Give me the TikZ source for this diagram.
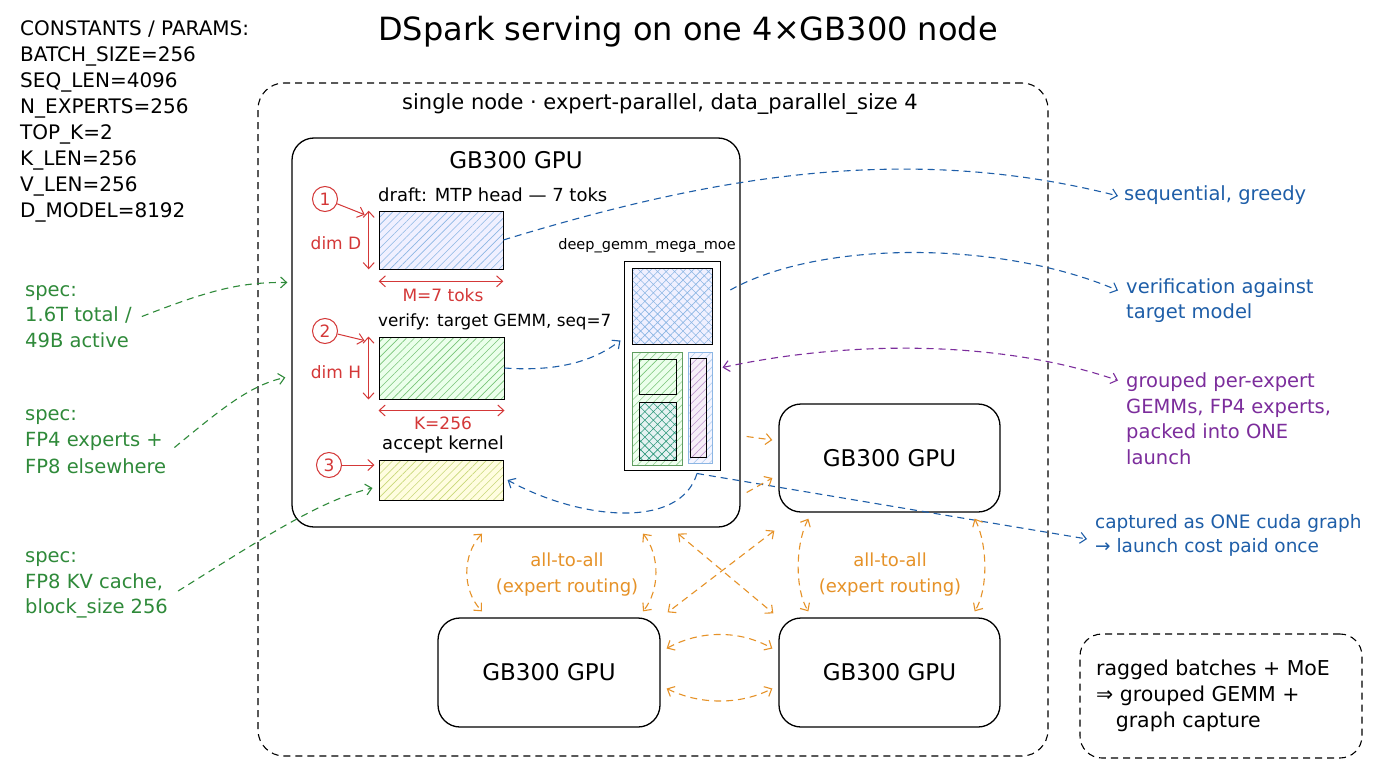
\documentclass[tikz,border=0pt]{standalone}
\usepackage{fontspec}
\setmainfont{DejaVu Sans}
\usetikzlibrary{positioning, calc, arrows.meta, patterns.meta}

\definecolor{skred}{RGB}{212,56,56}
\definecolor{skblue}{RGB}{30,94,168}
\definecolor{skpurple}{RGB}{124,45,156}
\definecolor{skgreen}{RGB}{47,138,58}
\definecolor{skorange}{RGB}{230,146,40}
\definecolor{hblue}{RGB}{140,182,228}
\definecolor{hgreen}{RGB}{120,196,120}
\definecolor{hyellow}{RGB}{200,216,120}
\definecolor{hteal}{RGB}{40,150,120}

\tikzset{
  txt/.style={font=\fontsize{18}{25}\selectfont, inner sep=0pt},
  side/.style={font=\fontsize{19.5}{25.5}\selectfont, inner sep=0pt, align=left, anchor=west},
  small/.style={font=\fontsize{17}{20}\selectfont, inner sep=0pt},
  gpubox/.style={draw, line width=1.3pt, rounded corners=22pt, font=\fontsize{23}{26}\selectfont},
  blk/.style={draw, line width=1pt, inner sep=0pt},
  lines/.style={pattern={Lines[angle=45,distance=5.5pt,line width=0.6pt]}},
  xhatch/.style={pattern={Hatch[angle=45,distance=6pt,line width=0.6pt]}},
  dsh/.style={dash pattern=on 7pt off 5pt, line width=1.1pt},
  numc/.style={draw=skred, circle, line width=1pt, minimum size=25pt, inner sep=0pt, text=skred, small},
  >={Straight Barb[length=6pt,width=11pt]}
}

\begin{document}
\begin{tikzpicture}[x=1pt, y=-1pt]
  \useasboundingbox (0,0) rectangle (1376,768);
  \fill[white] (0,0) rectangle (1376,768);

  \node[font=\fontsize{32}{36}\selectfont] (title) at (688,32) {DSpark serving on one 4×GB300 node};
  \node[font=\fontsize{20}{26}\selectfont, inner sep=0pt, anchor=west, align=left] (consts) at (20,121) {CONSTANTS / PARAMS:\\BATCH\_SIZE=256\\SEQ\_LEN=4096\\N\_EXPERTS=256\\TOP\_K=2\\K\_LEN=256\\V\_LEN=256\\D\_MODEL=8192};

  \node[draw, dsh, rounded corners=26pt, minimum width=790pt, minimum height=673pt] (outer) at (653,419.5) {};
  \node[font=\fontsize{21}{24}\selectfont] (outerlbl) at (660,104) {single node · expert-parallel, data\_parallel\_size 4};

  \node[gpubox, minimum width=448pt, minimum height=389pt] (gpu) at (516,332.5) {};
  \node[font=\fontsize{23}{26}\selectfont] (gputtl) at (516,160) {GB300 GPU};

  \node[blk, minimum width=124pt, minimum height=58pt, preaction={fill=blue!6}, lines, pattern color=hblue] (r1) at (441,240) {};
  \node[blk, minimum width=125pt, minimum height=62pt, preaction={fill=green!8}, lines, pattern color=hgreen] (r2) at (441.5,368) {};
  \node[blk, minimum width=124pt, minimum height=40pt, preaction={fill=yellow!12}, lines, pattern color=hyellow] (r3) at (441,480) {};

  \node[txt, anchor=west] (l1) at (378,195) {draft: MTP head — 7 toks};
  \node[txt, anchor=west, font=\fontsize{16.8}{20}\selectfont] (l2) at (378,322) {verify: target GEMM, seq=7};
  \node[txt] (l3) at (443,445) {accept kernel};

  \node[numc] (c1) at (325,199) {1};
  \node[numc] (c2) at (325,331) {2};
  \node[numc] (c3) at (329,465) {3};
  \draw[skred, line width=1pt, ->] (c1) -- ([xshift=-14pt,yshift=-4pt]r1.north west);
  \draw[skred, line width=1pt, ->] (c2) -- ([xshift=-14pt,yshift=-4pt]r2.north west);
  \draw[skred, line width=1pt, ->] (c3) -- ([xshift=-4pt]r3.west |- c3);

  \draw[skred, line width=1pt, <->] ([xshift=-10pt]r1.north west) -- ([xshift=-10pt]r1.south west);
  \node[small, text=skred] (dimd) at (336,243) {dim D};
  \draw[skred, line width=1pt, <->] ([yshift=-12pt]r1.south west) -- ([yshift=-12pt]r1.south east);
  \node[small, text=skred] (mtok) at (443,295) {M=7 toks};
  \draw[skred, line width=1pt, <->] ([xshift=-10pt]r2.north west) -- ([xshift=-10pt]r2.south west);
  \node[small, text=skred] (dimh) at (336,372) {dim H};
  \draw[skred, line width=1pt, <->] ([yshift=-11pt]r2.south west) -- ([yshift=-11pt]r2.south east);
  \node[small, text=skred] (kval) at (443,423) {K=256};

  \node[font=\fontsize{14.5}{16}\selectfont] (moelbl) at (647,246) {deep\_gemm\_mega\_moe};
  \node[blk, minimum width=96pt, minimum height=209pt, fill=white] (moe) at (672,365.5) {};
  \node[blk, minimum width=80pt, minimum height=76pt, preaction={fill=blue!6}, xhatch, pattern color=hblue] (mtop) at (672,306) {};
  \node[blk, draw=hgreen!80!black, minimum width=50pt, minimum height=113pt, preaction={fill=green!6}, lines, pattern color=hgreen!80] (mbl) at (657,408.5) {};
  \node[blk, minimum width=37pt, minimum height=35pt, preaction={fill=green!8}, lines, pattern color=hgreen] (ma) at (657.5,376.5) {};
  \node[blk, minimum width=37pt, minimum height=58pt, preaction={fill=teal!10}, xhatch, pattern color=hteal] (mb) at (657.5,431) {};
  \node[blk, draw=hblue, minimum width=24pt, minimum height=111pt, preaction={fill=blue!4}, lines, pattern color=hblue!70] (mbr) at (700,407.5) {};
  \node[blk, minimum width=16pt, minimum height=99pt, preaction={fill=skpurple!8}, lines, pattern color=skpurple!50] (mp) at (698,407.5) {};

  \node[gpubox, minimum width=221pt, minimum height=108pt] (gputr) at (889.5,458) {GB300 GPU};
  \node[gpubox, minimum width=222pt, minimum height=109pt] (gpubl) at (549,672.5) {GB300 GPU};
  \node[gpubox, minimum width=221pt, minimum height=109pt] (gpubr) at (889.5,672.5) {GB300 GPU};

  \node[side, text=skblue] (seq) at (1124,195) {sequential, greedy};
  \node[side, text=skblue] (verif) at (1126,300.5) {verification against\\target model};
  \node[side, text=skpurple] (group) at (1126,418.5) {grouped per-expert\\GEMMs, FP4 experts,\\packed into ONE\\launch};
  \node[side, text=skblue, font=\fontsize{18.5}{24}\selectfont] (capt) at (1095,535) {captured as ONE cuda graph\\→ launch cost paid once};

  \coordinate (moebot) at ($(moe.south)+(25,3)$);
  \draw[skblue, dsh, ->] (r1.east) .. controls (700,180) and (900,140) .. ([xshift=-6pt,yshift=-1pt]seq.west);
  \draw[skblue, dsh, ->] ($(mtop.east)+(18,-16)$) .. controls (820,240) and (1000,240) .. ([xshift=-8pt,yshift=10pt]verif.west);
  \draw[skpurple, dsh, <->] ($(mp.east)+(16,-40)$) .. controls (850,340) and (1000,340) .. ([xshift=-8pt,yshift=38pt]group.west);
  \draw[skblue, dsh, ->] (r2.east) .. controls (560,372) and (595,360) .. ([xshift=-3pt,yshift=25pt]moe.west);
  \draw[skblue, dsh, ->] (moebot) .. controls (680,530) and (580,520) .. ([xshift=4pt]r3.east);
  \draw[skblue, dsh, ->] (moebot) -- ([xshift=-8pt,yshift=-4pt]capt.west);

  \node[side, text=skgreen] (spec1) at (25,316.5) {spec:\\1.6T total /\\49B active};
  \node[side, text=skgreen, font=\fontsize{19.5}{26.5}\selectfont] (spec2) at (25,441.5) {spec:\\FP4 experts +\\FP8 elsewhere};
  \node[side, text=skgreen] (spec3) at (25,585) {spec:\\FP8 KV cache,\\block\_size 256};
  \draw[skgreen, dsh, ->] ([xshift=10pt]spec1.east) .. controls (210,290) and (240,282) .. ([xshift=-4pt,yshift=50pt]gpu.west);
  \draw[skgreen, dsh, ->] ([xshift=8pt,yshift=-6pt]spec2.east) .. controls (220,410) and (250,385) .. ([xshift=-6pt,yshift=-45pt]gpu.west);
  \draw[skgreen, dsh, ->] ([xshift=10pt,yshift=-6pt]spec3.east) .. controls (260,540) and (320,500) .. ([xshift=-6pt,yshift=-8pt]r3.west);

  \draw[skorange, dsh, <->] ($(gpu.south)+(-34,6)$) .. controls (462,555) and (462,590) .. ($(gpubl.north)+(-67,-6)$);
  \draw[skorange, dsh, <->] ($(gpu.south)+(127,6)$) .. controls (660,555) and (660,590) .. ($(gpubl.north)+(94,-6)$);
  \draw[skorange, dsh, <->] ($(gpu.south)+(162,6)$) -- ($(gpubr.north west)+(-5,-4)$);
  \draw[skorange, dsh, <->] ($(gputr.south west)+(-4,18)$) -- ($(gpubl.north east)+(7,-5)$);
  \draw[skorange, dsh, ->] ($(gpu.east)+(6,104)$) -- ($(gputr.west)+(-6,-18)$);
  \draw[skorange, dsh, ->] ($(gpu.east)+(6,160)$) -- ($(gputr.west)+(-6,20)$);
  \draw[skorange, dsh, <->] ($(gputr.south west)+(30,6)$) .. controls (795,545) and (795,590) .. ($(gpubr.north west)+(30,-6)$);
  \draw[skorange, dsh, <->] ($(gputr.south east)+(-26,6)$) .. controls (988,545) and (988,590) .. ($(gpubr.north east)+(-26,-6)$);
  \draw[skorange, dsh, <->] ($(gpubl.east)+(6,-24)$) .. controls (700,630) and (740,630) .. ($(gpubr.west)+(-6,-24)$);
  \draw[skorange, dsh, <->] ($(gpubl.east)+(6,16)$) .. controls (700,705) and (740,705) .. ($(gpubr.west)+(-6,16)$);
  \node[txt, text=skorange, align=center, font=\fontsize{18}{26}\selectfont] (a2a1) at (567,575) {all-to-all\\(expert routing)};
  \node[txt, text=skorange, align=center, font=\fontsize{18}{26}\selectfont] (a2a2) at (890,575) {all-to-all\\(expert routing)};

  \node[draw, dsh, rounded corners=22pt, minimum width=282pt, minimum height=124pt] (notebox) at (1221,696) {};
  \node[side, font=\fontsize{20.5}{26}\selectfont] (note) at (1096,696) {ragged batches + MoE\\⇒ grouped GEMM +\\\ \ \ graph capture};
\end{tikzpicture}
\end{document}
